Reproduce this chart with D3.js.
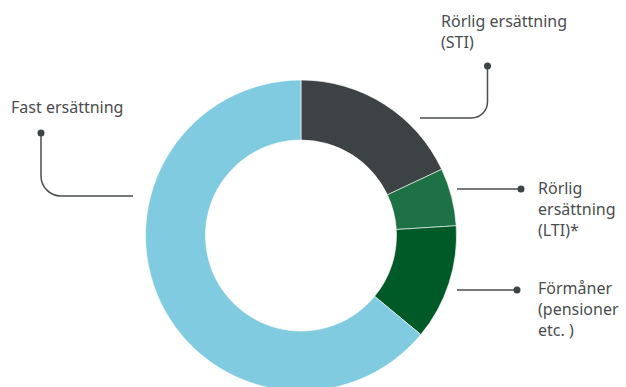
<!DOCTYPE html>
<html>
<head>
<meta charset="utf-8">
<script src="https://cdn.jsdelivr.net/npm/d3@7"></script>
<style>
  body { margin: 0; background: #fff; }
  svg { display: block; }
</style>
</head>
<body>
<svg width="626" height="387"></svg>
<script>
// data (share of total remuneration, %)
const categories = ["Rörlig ersättning (STI)", "Rörlig ersättning (LTI)*", "Förmåner (pensioner etc.)", "Fast ersättning"];
const values = [18, 6, 12, 64];
const colors = ["#3d4245", "#1e7145", "#005a28", "#80cbe0"];

// label text lines, same order as categories
const labelLines = [
  ["Rörlig ersättning", "(STI)"],
  ["Rörlig", "ersättning", "(LTI)*"],
  ["Förmåner", "(pensioner", "etc. )"],
  ["Fast ersättning"]
];

const svg = d3.select("svg");
const cx = 301, cy = 235.5;
const outerR = 155.5, innerR = 95.5;
const ink = "#4a4d4e";

const pie = d3.pie().sort(null).value((d) => d);
const arc = d3.arc().innerRadius(innerR).outerRadius(outerR);

const g = svg.append("g").attr("transform", "translate(" + cx + "," + cy + ")");

g.selectAll(".slice")
  .data(pie(values))
  .enter()
  .append("path")
  .attr("class", "slice")
  .attr("d", arc)
  .style("fill", (d, i) => colors[i])
  .style("stroke", "#fff")
  .style("stroke-width", 0.6);

// leader lines: horizontal part at y, from x0 (near ring) to elbow/dot
// type "up": horizontal then rounded turn up to dot; "flat": straight to dot
const leaders = [
  { type: "up", y: 118, x0: 420, dotX: 487.5, dotY: 66, r: 16 },
  { type: "flat", y: 189, x0: 457, dotX: 521, dotY: 189 },
  { type: "flat", y: 290, x0: 457, dotX: 517, dotY: 290 },
  { type: "upLeft", y: 196, x0: 133, dotX: 41, dotY: 133, r: 20 }
];

const labelPos = [
  { x: 441, y: 27 },
  { x: 538, y: 194 },
  { x: 538, y: 294 },
  { x: 11, y: 113 }
];
const lineH = 21;

function leaderPath(l) {
  const p = d3.path();
  if (l.type === "flat") {
    p.moveTo(l.x0, l.y);
    p.lineTo(l.dotX, l.dotY);
  } else if (l.type === "up") {
    p.moveTo(l.x0, l.y);
    p.lineTo(l.dotX - l.r, l.y);
    p.arcTo(l.dotX, l.y, l.dotX, l.y - l.r, l.r);
    p.lineTo(l.dotX, l.dotY);
  } else {
    p.moveTo(l.x0, l.y);
    p.lineTo(l.dotX + l.r, l.y);
    p.arcTo(l.dotX, l.y, l.dotX, l.y - l.r, l.r);
    p.lineTo(l.dotX, l.dotY);
  }
  return p.toString();
}

const ann = svg.append("g").attr("class", "annotations");

ann.selectAll(".leader")
  .data(leaders)
  .enter()
  .append("path")
  .attr("class", "leader")
  .attr("d", leaderPath)
  .style("fill", "none")
  .style("stroke", ink)
  .style("stroke-width", 1.5);

ann.selectAll(".dot")
  .data(leaders)
  .enter()
  .append("circle")
  .attr("class", "dot")
  .attr("cx", (d) => d.dotX)
  .attr("cy", (d) => d.dotY)
  .attr("r", 3.5)
  .style("fill", "#3d4245");

const labels = ann.selectAll(".label")
  .data(categories)
  .enter()
  .append("text")
  .attr("class", "label")
  .attr("x", (d, i) => labelPos[i].x)
  .attr("y", (d, i) => labelPos[i].y)
  .style("font", "16px 'Noto Sans', sans-serif")
  .style("fill", ink);

labels.selectAll("tspan")
  .data((d, i) => labelLines[i].map((t) => ({ t, x: labelPos[i].x })))
  .enter()
  .append("tspan")
  .attr("x", (d) => d.x)
  .attr("dy", (d, j) => (j === 0 ? 0 : lineH))
  .text((d) => d.t);
</script>
</body>
</html>
